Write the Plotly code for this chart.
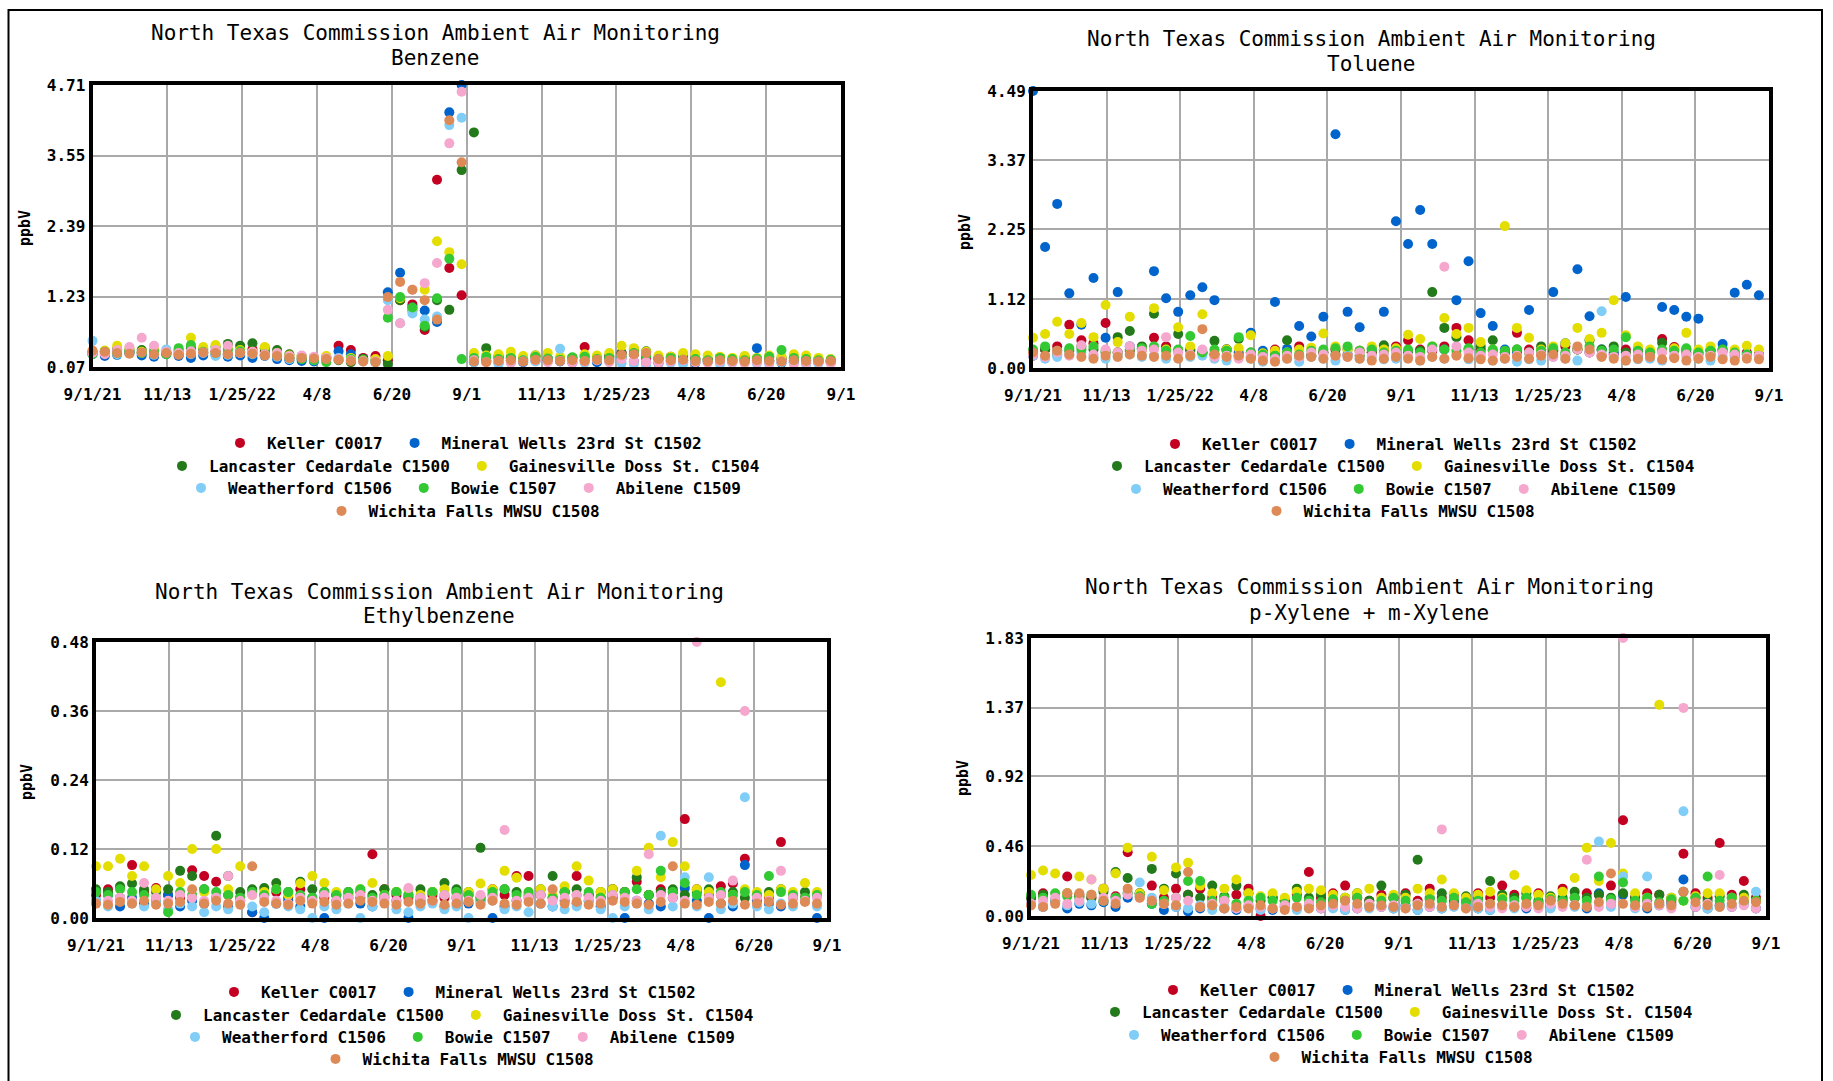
import pandas as pd
import plotly.graph_objects as go

W, H = 1833, 1081
MONO = "DejaVu Sans Mono"

# ---------------- categories / labels ----------------
SITES = ["Keller C0017", "Mineral Wells 23rd St C1502", "Lancaster Cedardale C1500",
         "Gainesville Doss St. C1504", "Weatherford C1506", "Bowie C1507",
         "Abilene C1509", "Wichita Falls MWSU C1508"]
COLORS = ["#c30022", "#0064cc", "#237a1a", "#e3de00", "#80cdf7", "#33c933", "#f5a7cd", "#de8a57"]
LEGEND_ROW = [0, 0, 1, 1, 2, 2, 2, 3]

# sampling schedule (every 12 days)
SAMPLE_DATES = pd.date_range("2021-09-01", periods=61, freq="12D")

TICK_DATES = ["2021-09-01", "2021-11-13", "2022-01-25", "2022-04-08", "2022-06-20", "2022-09-01",
              "2022-11-13", "2023-01-25", "2023-04-08", "2023-06-20", "2023-09-01"]
TICK_TEXT = ["9/1/21", "11/13", "1/25/22", "4/8", "6/20", "9/1",
             "11/13", "1/25/23", "4/8", "6/20", "9/1"]

BZ_YTICKS = [0.07, 1.23, 2.39, 3.55, 4.71]
TL_YTICKS = [0.00, 1.12, 2.25, 3.37, 4.49]
EB_YTICKS = [0.00, 0.12, 0.24, 0.36, 0.48]
XY_YTICKS = [0.00, 0.46, 0.92, 1.37, 1.83]

# ---------------- Benzene (ppbV) ----------------
BZ_KEL = [.32,.30,.35,.33,.30,.28,.31,.29,.27,.30,
          .33,.28,.30,.36,.32,.29,.22,.20,.19,.24,
          .42,.35,.22,.25,.18,1.17,1.10,.68,3.15,1.70,
          1.25,.20,.18,.22,.21,.19,.24,.18,.20,.22,
          .40,.22,.25,.30,.28,.22,.20,.24,.18,.20,
          .19,.22,.18,.21,.20,.24,.19,.17,.18,.20,
          .16]
BZ_MIN = [.28,.25,.27,.30,.26,.24,.28,.25,.22,.26,
          .27,.24,.26,.22,.25,.20,.18,.17,.16,.22,
          .33,.28,.20,.18,1.30,1.62,1.05,1.00,.81,4.26,
          4.71,.15,.16,.14,.18,.15,.17,.20,.16,.14,
          .18,.15,.20,.22,.16,.14,.13,.17,.15,.14,
          .16,.18,.15,.17,.38,.16,.14,.15,.13,.14,
          .15]
BZ_LAN = [.30,.33,.36,.31,.35,.33,.30,.34,.38,.36,
          .40,.45,.42,.46,.38,.35,.28,.25,.22,.20,
          .18,.15,.20,.17,.12,1.17,1.00,.73,1.17,1.01,
          3.31,3.93,.38,.25,.22,.20,.26,.21,.18,.22,
          .25,.20,.24,.30,.36,.33,.22,.20,.24,.18,
          .20,.22,.19,.24,.20,.18,.22,.21,.19,.17,
          .18]
BZ_GAI = [.30,.34,.42,.38,.32,.36,.33,.35,.55,.40,
          .43,.38,.35,.32,.40,.30,.26,.24,.22,.25,
          .20,.22,.18,.20,.25,1.20,1.00,1.34,2.14,1.96,
          1.76,.30,.26,.28,.32,.25,.26,.30,.24,.22,
          .28,.26,.30,.42,.38,.32,.26,.24,.30,.28,
          .26,.24,.22,.25,.22,.26,.24,.28,.26,.22,
          .20]
BZ_WEA = [.50,.30,.28,.32,.30,.27,.36,.32,.28,.30,
          .25,.27,.30,.28,.26,.24,.20,.22,.18,.20,
          .22,.18,.16,.15,1.17,.79,.95,.85,.90,4.05,
          4.17,.15,.05,.12,.14,.18,.16,.20,.37,.15,
          .14,.18,.16,.13,.12,.10,.15,.14,.12,.16,
          .15,.12,.14,.16,.13,.12,.15,.14,.12,.13,
          .14]
BZ_BOW = [.28,.32,.30,.35,.30,.33,.28,.38,.43,.32,
          .30,.35,.33,.30,.28,.26,.22,.20,.18,.15,
          .06,.20,.18,.15,.88,1.22,1.05,.75,1.20,1.85,
          .20,.22,.24,.20,.22,.18,.24,.21,.19,.23,
          .24,.20,.22,.25,.30,.26,.20,.22,.19,.20,
          .18,.22,.20,.18,.21,.24,.35,.22,.20,.18,
          .19]
BZ_ABI = [.30,.28,.35,.40,.55,.42,.32,.30,.33,.31,
          .35,.42,.30,.32,.28,.30,.25,.26,.24,.22,
          .20,.18,.17,.16,1.01,.79,1.34,1.45,1.78,3.75,
          4.60,.18,.15,.17,.14,.16,.18,.15,.17,.14,
          .16,.18,.15,.20,.17,.15,.14,.16,.18,.15,
          .14,.16,.15,.13,.15,.14,.16,.12,.14,.15,
          .13]
BZ_WIC = [.34,.32,.30,.29,.31,.28,.30,.27,.29,.31,
          .30,.28,.30,.29,.26,.25,.22,.22,.21,.20,
          .19,.17,.16,.15,1.22,1.47,1.34,1.17,.85,4.13,
          3.44,.16,.15,.17,.18,.16,.19,.18,.17,.18,
          .17,.19,.18,.27,.28,.30,.20,.18,.19,.17,
          .16,.18,.17,.16,.18,.17,.16,.18,.17,.16,
          .17]

# ---------------- Toluene (ppbV) ----------------
TL_KEL = [.20,.30,.35,.70,.45,.40,.73,.25,.28,.32,
          .49,.35,.28,.30,.25,.22,.30,.20,.18,.22,
          .30,.22,.35,.20,.25,.30,.22,.28,.25,.30,
          .35,.45,.30,.28,.35,.65,.45,.30,.28,.25,
          .57,.30,.22,.28,.35,.30,.25,.20,.22,.30,
          .28,.25,.47,.34,.30,.25,.22,.28,.20,.25,
          .22]
TL_MIN = [4.49,1.96,2.66,1.21,.70,1.46,.49,1.23,.35,.30,
          1.57,1.13,.91,1.18,1.31,1.10,.30,.25,.57,.28,
          1.07,.31,.68,.51,.83,3.79,.91,.66,.32,.91,
          2.38,2.01,2.56,2.01,.30,1.10,1.73,.89,.68,.30,
          .25,.94,.30,1.23,.40,1.60,.84,.30,.25,1.15,
          .20,.25,.99,.94,.83,.80,.29,.39,1.22,1.35,
          1.18]
TL_LAN = [.25,.30,.22,.28,.35,.30,.25,.50,.60,.35,
          .88,.30,.55,.28,.25,.44,.30,.47,.25,.20,
          .22,.45,.18,.20,.25,.22,.30,.20,.25,.37,
          .30,.25,.28,1.23,.65,.50,.30,.35,.45,.25,
          .30,.25,.35,.28,.22,.30,.45,.30,.35,.25,
          .28,.22,.41,.30,.25,.22,.28,.30,.25,.22,
          .20]
TL_GAI = [.49,.55,.75,.55,.73,.50,1.02,.42,.83,.30,
          .97,.30,.66,.35,.87,.28,.30,.32,.53,.24,
          .28,.25,.30,.33,.56,.35,.30,.28,.35,.30,
          .32,.54,.47,.35,.81,.55,.65,.42,.30,2.30,
          .65,.49,.30,.35,.40,.65,.47,.57,1.10,.53,
          .35,.30,.28,.32,.57,.30,.35,.28,.30,.36,
          .30]
TL_WEA = [.20,.15,.18,.22,.25,.18,.15,.20,.22,.18,
          .20,.15,.25,.18,.20,.15,.12,.18,.15,.10,
          .12,.15,.10,.18,.15,.12,.20,.15,.18,.14,
          .15,.20,.12,.18,.15,.22,.14,.18,.12,.15,
          .10,.14,.12,.18,.15,.12,.25,.92,.18,.12,
          .14,.15,.12,.18,.20,.15,.12,.18,.16,.22,
          .18]
TL_BOW = [.30,.35,.28,.32,.30,.35,.28,.25,.30,.32,
          .35,.28,.30,.52,.25,.30,.28,.50,.25,.22,
          .20,.25,.22,.28,.30,.32,.35,.28,.30,.25,
          .28,.30,.25,.35,.30,.28,.32,.25,.30,.28,
          .30,.25,.28,.32,.25,.30,.35,.28,.30,.50,
          .28,.25,.30,.28,.32,.25,.28,.30,.25,.22,
          .20]
TL_ABI = [.22,.18,.25,.20,.37,.22,.30,.25,.35,.28,
          .30,.50,.25,.22,.30,.18,.20,.15,.22,.18,
          .15,.20,.18,.25,.22,.20,.18,.25,.20,.22,
          .25,.20,.18,.30,1.64,.35,.25,.20,.22,.18,
          .20,.25,.22,.18,.20,.30,.25,.22,.18,.20,
          .22,.18,.25,.20,.22,.18,.20,.25,.22,.18,
          .20]
TL_WIC = [.25,.20,.28,.22,.18,.15,.20,.18,.22,.20,
          .18,.20,.15,.20,.63,.22,.18,.20,.15,.12,
          .10,.15,.20,.18,.15,.20,.18,.15,.12,.15,
          .18,.15,.12,.18,.15,.20,.16,.14,.12,.15,
          .18,.15,.20,.22,.15,.35,.30,.18,.15,.12,
          .15,.18,.14,.16,.12,.15,.18,.14,.12,.15,
          .14]

# ---------------- Ethylbenzene (ppbV) ----------------
EB_KEL = [.04,.05,.035,.092,.045,.052,.04,.035,.083,.073,
          .063,.04,.035,.01,.04,.045,.035,.05,.03,.035,
          .04,.035,.045,.111,.05,.04,.035,.03,.04,.035,
          .045,.04,.035,.05,.04,.073,.073,.04,.035,.045,
          .073,.04,.035,.05,.045,.063,.04,.05,.045,.172,
          .05,.04,.055,.06,.103,.04,.035,.132,.04,.035,
          .04]
EB_MIN = [.03,.04,.02,.035,.025,.03,.04,.02,.03,.025,
          .035,.02,.03,.01,.0,.025,.03,.02,.035,.0,
          .03,.04,.025,.02,.035,.03,.0,.025,.03,.02,
          .035,.025,.03,.0,.02,.03,.035,.025,.02,.03,
          .025,.03,.02,.035,.0,.03,.025,.02,.035,.052,
          .03,.0,.025,.02,.092,.03,.025,.02,.035,.03,
          .0]
EB_LAN = [.05,.045,.055,.06,.05,.045,.05,.082,.073,.05,
          .143,.073,.045,.05,.052,.061,.045,.063,.05,.045,
          .04,.045,.035,.04,.05,.045,.04,.05,.045,.061,
          .05,.045,.122,.04,.05,.045,.04,.05,.073,.045,
          .05,.04,.045,.05,.045,.071,.04,.045,.05,.04,
          .045,.05,.04,.045,.035,.04,.045,.05,.04,.045,
          .04]
EB_GAI = [.09,.09,.103,.073,.09,.05,.073,.061,.12,.045,
          .12,.05,.09,.04,.045,.05,.04,.06,.073,.061,
          .045,.04,.05,.061,.04,.045,.05,.04,.045,.05,
          .04,.045,.06,.05,.082,.07,.045,.05,.04,.055,
          .09,.065,.045,.05,.04,.082,.122,.071,.132,.09,
          .05,.045,.41,.04,.05,.045,.04,.05,.045,.061,
          .045]
EB_WEA = [.03,.02,.035,.025,.02,.03,.015,.025,.02,.01,
          .02,.015,.03,.02,.01,.025,.02,.015,.0,.02,
          .015,.025,.0,.02,.03,.015,.01,.02,.025,.015,
          .02,.0,.025,.03,.015,.02,.01,.025,.02,.015,
          .02,.03,.015,.0,.02,.025,.015,.143,.02,.071,
          .02,.071,.015,.025,.21,.02,.015,.025,.02,.03,
          .02]
EB_BOW = [.045,.04,.05,.045,.04,.035,.01,.045,.04,.05,
          .045,.04,.035,.045,.04,.05,.045,.04,.035,.045,
          .04,.045,.05,.035,.04,.045,.04,.035,.045,.04,
          .045,.04,.035,.045,.05,.04,.045,.04,.035,.045,
          .04,.045,.035,.04,.045,.05,.04,.082,.045,.061,
          .04,.035,.045,.04,.045,.04,.073,.045,.04,.035,
          .04]
EB_ABI = [.025,.03,.035,.03,.061,.035,.03,.04,.035,.03,
          .035,.073,.03,.04,.035,.03,.025,.035,.03,.04,
          .03,.035,.04,.03,.035,.03,.052,.035,.03,.04,
          .035,.03,.04,.035,.153,.03,.035,.04,.03,.035,
          .04,.035,.03,.04,.035,.03,.111,.04,.035,.03,
          .48,.035,.04,.065,.36,.035,.03,.082,.035,.03,
          .035]
EB_WIC = [.025,.023,.028,.025,.03,.023,.025,.028,.05,.025,
          .03,.025,.023,.09,.028,.025,.023,.03,.025,.028,
          .023,.025,.03,.028,.025,.023,.028,.025,.03,.023,
          .025,.028,.023,.03,.025,.023,.028,.025,.05,.025,
          .028,.023,.025,.03,.028,.025,.023,.028,.09,.025,
          .023,.028,.025,.03,.023,.025,.028,.023,.025,.028,
          .025]

# ---------------- p-Xylene + m-Xylene (ppbV) ----------------
XY_KEL = [.12,.15,.10,.26,.14,.12,.18,.13,.42,.15,
          .20,.12,.18,.14,.18,.12,.10,.14,.18,.0,
          .12,.10,.14,.29,.12,.15,.20,.12,.10,.14,
          .12,.15,.10,.18,.12,.14,.10,.15,.12,.20,
          .14,.12,.15,.10,.18,.12,.15,.14,.20,.63,
          .12,.15,.14,.10,.41,.15,.12,.48,.14,.23,
          .12]
XY_MIN = [.08,.06,.10,.05,.08,.07,.09,.06,.12,.15,
          .08,.04,.06,.03,.05,.07,.05,.04,.06,.05,
          .04,.06,.05,.07,.05,.06,.04,.05,.07,.06,
          .05,.07,.04,.06,.05,.08,.06,.05,.04,.07,
          .06,.05,.08,.06,.10,.07,.05,.15,.08,.14,
          .06,.05,.07,.08,.24,.06,.05,.07,.06,.08,
          .05]
XY_LAN = [.12,.14,.10,.15,.13,.12,.16,.29,.25,.14,
          .31,.18,.28,.14,.12,.20,.13,.20,.15,.10,
          .12,.10,.18,.12,.14,.10,.12,.15,.10,.20,
          .12,.14,.37,.12,.15,.10,.13,.12,.23,.14,
          .12,.15,.10,.13,.12,.16,.12,.14,.12,.15,
          .12,.10,.14,.12,.16,.12,.10,.13,.12,.14,
          .10]
XY_GAI = [.27,.30,.28,.15,.26,.24,.18,.28,.45,.15,
          .39,.17,.32,.35,.20,.15,.18,.24,.15,.13,
          .15,.12,.16,.18,.17,.14,.12,.15,.18,.12,
          .14,.12,.18,.15,.24,.15,.12,.14,.16,.12,
          .27,.17,.14,.12,.16,.25,.45,.23,.48,.28,
          .15,.12,1.39,.12,.10,.13,.15,.15,.12,.12,
          .10]
XY_WEA = [.08,.06,.10,.07,.09,.08,.10,.12,.15,.22,
          .12,.08,.06,.05,.07,.04,.06,.05,.07,.04,
          .05,.06,.04,.05,.07,.05,.04,.06,.05,.07,
          .05,.06,.04,.07,.05,.06,.08,.05,.04,.06,
          .05,.07,.06,.05,.08,.06,.07,.49,.06,.26,
          .05,.26,.07,.06,.69,.07,.05,.06,.07,.08,
          .16]
XY_BOW = [.14,.12,.15,.13,.12,.14,.10,.12,.15,.13,
          .08,.10,.12,.23,.23,.10,.12,.08,.10,.12,
          .10,.08,.12,.10,.09,.11,.10,.12,.08,.10,
          .12,.10,.08,.11,.10,.12,.09,.10,.08,.11,
          .10,.12,.09,.11,.10,.12,.10,.26,.11,.22,
          .10,.12,.09,.11,.10,.12,.26,.10,.12,.09,
          .10]
XY_ABI = [.08,.10,.12,.08,.10,.24,.12,.10,.14,.12,
          .10,.08,.12,.10,.06,.08,.10,.05,.07,.06,
          .05,.07,.06,.08,.05,.07,.06,.05,.08,.06,
          .07,.05,.08,.06,.57,.07,.05,.08,.06,.05,
          .07,.06,.05,.08,.06,.07,.37,.06,.08,1.83,
          .06,.08,.07,.05,1.37,.06,.08,.27,.06,.07,
          .05]
XY_WIC = [.07,.06,.08,.15,.15,.14,.10,.08,.18,.12,
          .10,.08,.07,.29,.06,.07,.05,.06,.05,.07,
          .05,.04,.06,.05,.07,.08,.10,.08,.06,.07,
          .06,.05,.07,.08,.06,.07,.05,.06,.08,.07,
          .06,.08,.07,.10,.08,.07,.06,.09,.28,.08,
          .07,.06,.08,.07,.16,.09,.07,.06,.08,.10,
          .09]

# ---------------- layout of the four panels (pixel boxes) ----------------
PANELS = [
    dict(name="Benzene", series=[BZ_KEL, BZ_MIN, BZ_LAN, BZ_GAI, BZ_WEA, BZ_BOW, BZ_ABI, BZ_WIC],
         yticks=BZ_YTICKS, box=(92.5, 85, 841, 367), title_x=435, title_y=(33, 58),
         leg_x=460, leg_y=(443, 466, 488, 511), ylab=(25, 228)),
    dict(name="Toluene", series=[TL_KEL, TL_MIN, TL_LAN, TL_GAI, TL_WEA, TL_BOW, TL_ABI, TL_WIC],
         yticks=TL_YTICKS, box=(1033, 91, 1769, 368), title_x=1371, title_y=(39, 64),
         leg_x=1395, leg_y=(444, 466, 489, 511), ylab=(965, 232)),
    dict(name="Ethylbenzene", series=[EB_KEL, EB_MIN, EB_LAN, EB_GAI, EB_WEA, EB_BOW, EB_ABI, EB_WIC],
         yticks=EB_YTICKS, box=(96, 642, 827, 918), title_x=439, title_y=(592, 616),
         leg_x=454, leg_y=(992, 1015, 1037, 1059), ylab=(27, 782)),
    dict(name="p-Xylene + m-Xylene", series=[XY_KEL, XY_MIN, XY_LAN, XY_GAI, XY_WEA, XY_BOW, XY_ABI, XY_WIC],
         yticks=XY_YTICKS, box=(1031, 638, 1766, 916), title_x=1369, title_y=(587, 613),
         leg_x=1393, leg_y=(990, 1012, 1035, 1057), ylab=(963, 778)),
]

for p in PANELS:
    for s in p["series"]:
        assert len(s) == len(SAMPLE_DATES), (p["name"], len(s))

fig = go.Figure()
layout = dict(width=W, height=H, autosize=False,
              margin=dict(l=0, r=0, t=0, b=0, pad=0, autoexpand=False),
              paper_bgcolor="white", plot_bgcolor="white", showlegend=True)
annotations = []
GRID = "#a9a9a9"

for pi, p in enumerate(PANELS, start=1):
    xr = "x" if pi == 1 else f"x{pi}"
    yr = "y" if pi == 1 else f"y{pi}"
    xk = "xaxis" if pi == 1 else f"xaxis{pi}"
    yk = "yaxis" if pi == 1 else f"yaxis{pi}"
    x0, y0, x1, y1 = p["box"]

    for si, (site, col, vals) in enumerate(zip(SITES, COLORS, p["series"])):
        lid = (pi - 1) * 4 + LEGEND_ROW[si] + 1
        lname = "legend" if lid == 1 else f"legend{lid}"
        fig.add_trace(go.Scatter(
            x=SAMPLE_DATES, y=vals, mode="markers", name=site,
            marker=dict(color=col, size=10, symbol="circle", line=dict(width=0)),
            xaxis=xr, yaxis=yr, legend=lname, cliponaxis=False, showlegend=True,
            hovertemplate="%{x|%m/%d/%y}: %{y:.2f} ppbV<extra>" + site + "</extra>"))

    layout[xk] = dict(domain=[x0 / W, x1 / W], anchor=yr, type="date", automargin=False,
                      range=[TICK_DATES[0], TICK_DATES[-1]], tickmode="array",
                      tickvals=TICK_DATES, ticktext=TICK_TEXT, tickangle=0,
                      showgrid=True, gridcolor=GRID, gridwidth=1.5,
                      showline=True, linecolor="black", linewidth=4, mirror=True,
                      ticks="", zeroline=False, ticklabelstandoff=10,
                      tickfont=dict(family=MONO, size=16, color="black", weight="bold"))
    yt = p["yticks"]
    layout[yk] = dict(domain=[1 - y1 / H, 1 - y0 / H], anchor=xr, automargin=False,
                      range=[yt[0], yt[-1]], tickmode="array", tickvals=yt,
                      tickformat=".2f", showgrid=True, gridcolor=GRID, gridwidth=1.5,
                      showline=True, linecolor="black", linewidth=4, mirror=True,
                      ticks="", zeroline=False, ticklabelstandoff=0,
                      tickfont=dict(family=MONO, size=16, color="black", weight="bold"))

    for r in range(4):
        lid = (pi - 1) * 4 + r + 1
        lname = "legend" if lid == 1 else f"legend{lid}"
        layout[lname] = dict(orientation="h", x=p["leg_x"] / W, xanchor="center",
                             y=1 - p["leg_y"][r] / H, yanchor="middle",
                             bgcolor="rgba(0,0,0,0)", borderwidth=0, itemwidth=44,
                             font=dict(family=MONO, size=16, color="black", weight="bold"))

    for line_text, ty in zip(["North Texas Commission Ambient Air Monitoring", p["name"]], p["title_y"]):
        annotations.append(dict(text=line_text, x=p["title_x"] / W, y=1 - ty / H,
                                xref="paper", yref="paper", xanchor="center", yanchor="middle",
                                showarrow=False, font=dict(family=MONO, size=21, color="black")))
    annotations.append(dict(text="ppbV", x=p["ylab"][0] / W, y=1 - p["ylab"][1] / H,
                            xref="paper", yref="paper", xanchor="center", yanchor="middle",
                            textangle=-90, showarrow=False,
                            font=dict(family=MONO, size=15, color="black", weight="bold")))

layout["annotations"] = annotations
layout["shapes"] = [dict(type="rect", xref="paper", yref="paper",
                         x0=8.5 / W, x1=1822 / W, y0=-0.05, y1=1 - 10 / H,
                         line=dict(color="black", width=2), fillcolor="rgba(0,0,0,0)", layer="below")]
fig.update_layout(**layout)
fig.write_html("out.html")
